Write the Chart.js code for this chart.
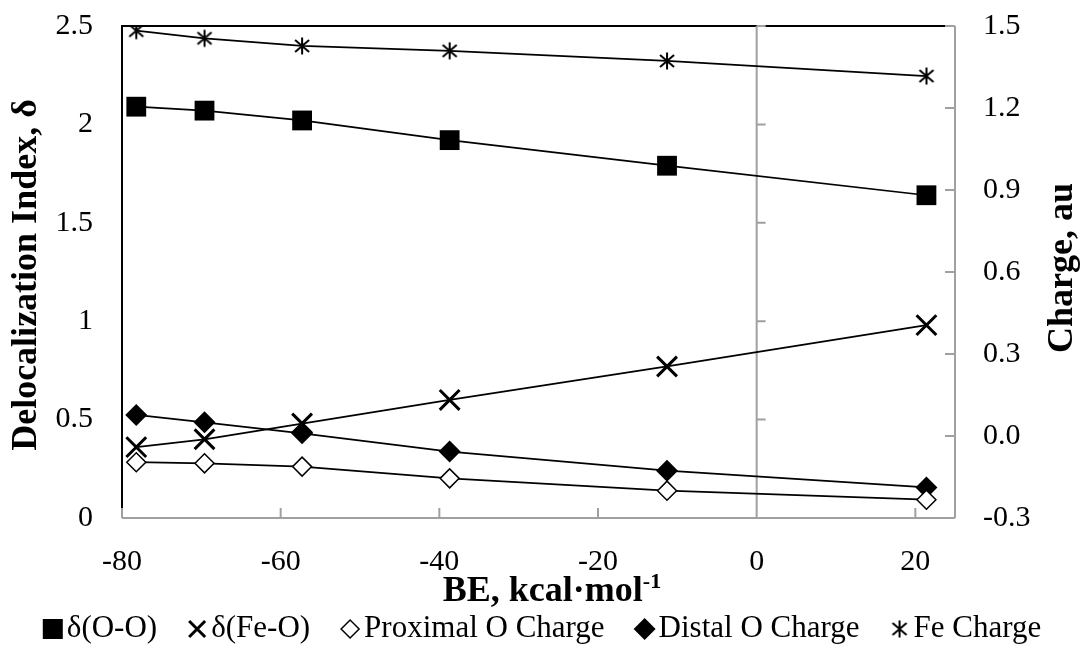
<!DOCTYPE html>
<html>
<head>
<meta charset="utf-8">
<script src="https://cdn.jsdelivr.net/npm/chart.js@4/dist/chart.umd.min.js"></script>
<style>body{margin:0;background:#fff}</style>
</head>
<body>
<canvas id="mycanvas" width="1085" height="645"></canvas>
<script>
// BE, kcal/mol for each complex
var beValues = [-78.2, -69.6, -57.3, -38.7, -11.3, 21.4];
// delocalization indices (left axis)
var deltaOO = [2.09, 2.07, 2.02, 1.92, 1.79, 1.64];
var deltaFeO = [0.36, 0.40, 0.48, 0.60, 0.77, 0.98];
// charges, au (right axis)
var proximalO = [-0.096, -0.100, -0.112, -0.155, -0.200, -0.233];
var distalO = [0.077, 0.050, 0.010, -0.057, -0.127, -0.188];
var feCharge = [1.483, 1.455, 1.427, 1.409, 1.372, 1.317];

var seriesNames = ['δ(O-O)', 'δ(Fe-O)', 'Proximal O Charge', 'Distal O Charge', 'Fe Charge'];
var xTicks = [-80, -60, -40, -20, 0, 20];
var leftTicks = [0, 0.5, 1, 1.5, 2, 2.5];
var rightTicks = [-0.3, 0, 0.3, 0.6, 0.9, 1.2, 1.5];

var FONT = '"Liberation Serif", "Times New Roman", serif';
var GRAY = '#a0a0a0';

function toPoints(ys){
	var pts = [];
	for (var i = 0; i < beValues.length; i++) pts.push({x: beValues[i], y: ys[i]});
	return pts;
}

// six-armed asterisk for the Fe charge marker
function makeStar(){
	var c = document.createElement('canvas');
	c.width = 20; c.height = 20;
	var g = c.getContext('2d');
	g.strokeStyle = '#000';
	g.lineWidth = 2;
	g.beginPath();
	g.moveTo(10, 1.5); g.lineTo(10, 18.5);
	g.moveTo(3, 4); g.lineTo(17, 16);
	g.moveTo(17, 4); g.lineTo(3, 16);
	g.stroke();
	return c;
}
var starImg = makeStar();

function drawMarker(ctx, kind, x, y){
	ctx.save();
	ctx.fillStyle = '#000';
	ctx.strokeStyle = '#000';
	if (kind == 'square') {
		ctx.fillRect(x - 10, y - 10, 20, 20);
	} else if (kind == 'cross') {
		ctx.lineWidth = 3;
		ctx.beginPath();
		ctx.moveTo(x - 8, y - 8); ctx.lineTo(x + 8, y + 8);
		ctx.moveTo(x + 8, y - 8); ctx.lineTo(x - 8, y + 8);
		ctx.stroke();
	} else if (kind == 'open') {
		ctx.lineWidth = 1.5;
		ctx.fillStyle = '#fff';
		ctx.beginPath();
		ctx.moveTo(x - 9, y); ctx.lineTo(x, y - 9); ctx.lineTo(x + 9, y); ctx.lineTo(x, y + 9);
		ctx.closePath();
		ctx.fill(); ctx.stroke();
	} else if (kind == 'diamond') {
		ctx.beginPath();
		ctx.moveTo(x - 11, y); ctx.lineTo(x, y - 11); ctx.lineTo(x + 11, y); ctx.lineTo(x, y + 11);
		ctx.closePath();
		ctx.fill();
	} else {
		ctx.drawImage(starImg, x - 10, y - 10);
	}
	ctx.restore();
}

var markerKinds = ['square', 'cross', 'open', 'diamond', 'star'];

var framePlugin = {
	id: 'frame',
	beforeDatasetsDraw: function(chart){
		var ctx = chart.ctx, a = chart.chartArea;
		var sx = chart.scales.x, sy = chart.scales.y, sy2 = chart.scales.y2;
		ctx.save();
		// black plot border (left, top)
		ctx.strokeStyle = '#000';
		ctx.lineWidth = 2;
		ctx.beginPath();
		ctx.moveTo(a.left, a.bottom); ctx.lineTo(a.left, a.top); ctx.lineTo(a.right, a.top);
		ctx.stroke();
		ctx.strokeStyle = GRAY;
		ctx.beginPath();
		// bottom axis with inward ticks
		ctx.moveTo(a.left, a.bottom); ctx.lineTo(a.right, a.bottom);
		xTicks.forEach(function(v){
			var px = sx.getPixelForValue(v);
			ctx.moveTo(px, a.bottom); ctx.lineTo(px, a.bottom - 10);
		});
		// right axis with inward ticks
		ctx.moveTo(a.right, a.top); ctx.lineTo(a.right, a.bottom);
		rightTicks.forEach(function(v){
			var py = sy2.getPixelForValue(v);
			ctx.moveTo(a.right, py); ctx.lineTo(a.right - 10, py);
		});
		// primary vertical axis crossing at x = 0
		var x0 = sx.getPixelForValue(0);
		ctx.moveTo(x0, a.top); ctx.lineTo(x0, a.bottom);
		leftTicks.forEach(function(v){
			var py = sy.getPixelForValue(v);
			ctx.moveTo(x0, py); ctx.lineTo(x0 + 9, py);
		});
		ctx.stroke();
		ctx.restore();
	},
	afterDraw: function(chart){
		var ctx = chart.ctx, a = chart.chartArea;
		ctx.save();
		ctx.fillStyle = '#000';
		// axis titles
		ctx.font = 'bold 36px ' + FONT;
		ctx.textAlign = 'center';
		ctx.textBaseline = 'middle';
		ctx.save();
		ctx.translate(27, 275);
		ctx.rotate(-Math.PI / 2);
		ctx.fillText('Delocalization Index, δ', 0, 0);
		ctx.restore();
		ctx.save();
		ctx.translate(1063, 268);
		ctx.rotate(-Math.PI / 2);
		ctx.fillText('Charge, au', 0, 0);
		ctx.restore();

		// x title with superscript
		ctx.textAlign = 'left';
		ctx.textBaseline = 'alphabetic';
		var main = 'BE, kcal·mol', sup = '-1';
		ctx.font = 'bold 36px ' + FONT;
		var w1 = ctx.measureText(main).width;
		ctx.font = 'bold 22px ' + FONT;
		var w2 = ctx.measureText(sup).width;
		var tx = 552 - (w1 + w2) / 2;
		ctx.font = 'bold 36px ' + FONT;
		ctx.fillText(main, tx, 601);
		ctx.font = 'bold 22px ' + FONT;
		ctx.fillText(sup, tx + w1, 588);

		// legend
		ctx.font = '31px ' + FONT;
		var widths = seriesNames.map(function(n){ return ctx.measureText(n).width; });
		var total = 0;
		widths.forEach(function(w){ total += 20 + 4 + w; });
		total += 30 * (seriesNames.length - 1);
		var lx = 542 - total / 2;
		for (var i = 0; i < seriesNames.length; i++) {
			drawMarker(ctx, markerKinds[i], lx + 10, 629);
			ctx.fillStyle = '#000';
			ctx.fillText(seriesNames[i], lx + 24, 637);
			lx += 24 + widths[i] + 30;
		}
		ctx.restore();
	}
};

function lineSet(label, ys, axis, style, radius, fill, bw){
	return {
		label: label,
		data: toPoints(ys),
		yAxisID: axis,
		showLine: true,
		borderColor: '#000',
		borderWidth: 1.75,
		pointStyle: style,
		pointRadius: radius,
		pointBackgroundColor: fill,
		pointBorderColor: '#000',
		pointBorderWidth: bw
	};
}

function fitY(width){
	return function(s){
		s.width = width;
		s.paddingTop = 0;
		s.paddingBottom = 0;
	};
}

var ctx = document.getElementById('mycanvas');
var chart = new Chart(ctx, {
	type: 'scatter',
	data: {
		datasets: [
			lineSet(seriesNames[0], deltaOO, 'y', 'rect', 14, '#000', 0),
			lineSet(seriesNames[1], deltaFeO, 'y', 'crossRot', 14, '#000', 3),
			lineSet(seriesNames[2], proximalO, 'y2', 'rectRot', 9.5, '#fff', 1.5),
			lineSet(seriesNames[3], distalO, 'y2', 'rectRot', 11, '#000', 0),
			lineSet(seriesNames[4], feCharge, 'y2', starImg, 10, '#000', 0)
		]
	},
	options: {
		responsive: false,
		animation: false,
		events: [],
		layout: {padding: {top: 26, left: 0, right: 0, bottom: 0}},
		plugins: {legend: {display: false}, tooltip: {enabled: false}},
		scales: {
			x: {
				type: 'linear', position: 'bottom', min: -80, max: 25,
				grid: {display: false, drawTicks: false},
				border: {display: false},
				ticks: {font: {family: FONT, size: 30}, color: '#000', padding: 26, maxRotation: 0, autoSkip: false},
				afterBuildTicks: function(s){ s.ticks = xTicks.map(function(v){ return {value: v}; }); },
				afterFit: function(s){ s.height = 127; s.paddingLeft = 0; s.paddingRight = 0; }
			},
			y: {
				type: 'linear', position: 'left', min: 0, max: 2.5,
				grid: {display: false, drawTicks: false},
				border: {display: false},
				ticks: {font: {family: FONT, size: 30}, color: '#000', padding: 29, callback: function(v){ return String(v); }},
				afterBuildTicks: function(s){ s.ticks = leftTicks.map(function(v){ return {value: v}; }); },
				afterFit: fitY(122)
			},
			y2: {
				type: 'linear', position: 'right', min: -0.3, max: 1.5,
				grid: {display: false, drawTicks: false},
				border: {display: false},
				ticks: {font: {family: FONT, size: 30}, color: '#000', padding: 28, callback: function(v){ return v.toFixed(1); }},
				afterBuildTicks: function(s){ s.ticks = rightTicks.map(function(v){ return {value: v}; }); },
				afterFit: fitY(130)
			}
		}
	},
	plugins: [framePlugin]
});
</script>
</body>
</html>
